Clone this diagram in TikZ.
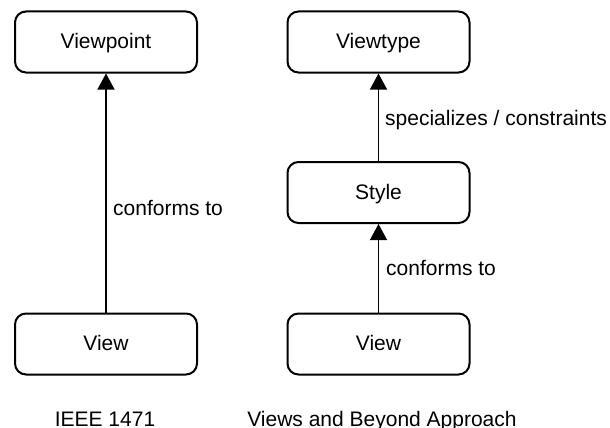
\documentclass[tikz,border=0pt]{standalone}
\usepackage{fontspec}
\setmainfont{Liberation Sans}
\usetikzlibrary{arrows.meta}
\begin{document}
\begin{tikzpicture}[x=1pt,y=-1pt,
  box/.style={draw=black,line width=2pt,rounded corners=11pt,minimum width=182pt,minimum height=61pt,
    inner sep=0pt,text height=15pt,text depth=2pt,font=\fontsize{21}{25}\selectfont},
  lbl/.style={inner sep=0pt,anchor=base west,font=\fontsize{21}{25}\selectfont},
  captxt/.style={inner sep=0pt,anchor=base,font=\fontsize{21}{25}\selectfont},
  arr/.style={line width=1.3pt,-{Triangle[width=17pt,length=16pt]}}]
\useasboundingbox (0,0) rectangle (610,428);
\clip (0,0) rectangle (610,428);
\node[box] (vp) at (106,42) {Viewpoint};
\node[box] (v1) at (106,344) {View};
\node[box] (vt) at (378.5,42) {Viewtype};
\node[box] (st) at (378.5,192.5) {Style};
\node[box] (v2) at (378.5,344) {View};
\draw[arr] (v1) -- (vp);
\draw[arr] (st) -- (vt);
\draw[arr] (v2) -- (st);
\node[lbl] (l1) at (113,215) {conforms to};
\node[lbl] (l2) at (385,125) {specializes / constraints};
\node[lbl] (l3) at (386,275) {conforms to};
\node[captxt] (c1) at (105,426) {IEEE 1471};
\node[captxt] (c2) at (382,426) {Views and Beyond Approach};
\end{tikzpicture}
\end{document}
